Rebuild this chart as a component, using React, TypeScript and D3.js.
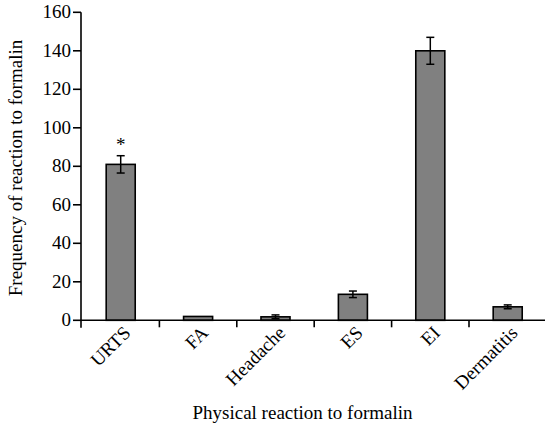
import React from "react";
import * as d3 from "d3";

const categories = ["URTS", "FA", "Headache", "ES", "EI", "Dermatitis"];
const values = [81, 2, 1.8, 13.5, 140, 7];
const errors = [4.5, 0.3, 1, 1.7, 7, 1];
const significant = [true, false, false, false, false, false];
const yTicks = [0, 20, 40, 60, 80, 100, 120, 140, 160];

const W = 545;
const H = 427;
const FONT = "Liberation Serif, serif";

export default function App() {
  const x = d3.scaleBand<string>().domain(categories).range([82, 546.4]);
  const y = d3.scaleLinear().domain([0, 160]).range([320.3, 12.3]);
  const bw = x.bandwidth();
  const barW = bw * 0.375;
  const y0 = y(0);
  const boundaries = categories.slice(1).map((c) => x(c) as number);
  const ts = { fontFamily: FONT, fontSize: "19px" };

  return (
    <svg width={W} height={H} style={{ position: "absolute", left: 0, top: 0, background: "#fff" }}>
      {categories.map((c, i) => {
        const cx = (x(c) as number) + bw / 2;
        return (
          <g key={c}>
            <rect
              x={cx - barW / 2}
              y={y(values[i])}
              width={barW}
              height={y0 - y(values[i])}
              fill="#808080"
              stroke="#000"
              strokeWidth={1.6}
            />
            {errors[i] > 0.5 && (
              <g stroke="#000" strokeWidth={1.5}>
                <line x1={cx} x2={cx} y1={y(values[i] + errors[i])} y2={y(values[i] - errors[i])} />
                <line x1={cx - 4} x2={cx + 4} y1={y(values[i] + errors[i])} y2={y(values[i] + errors[i])} />
                <line x1={cx - 4} x2={cx + 4} y1={y(values[i] - errors[i])} y2={y(values[i] - errors[i])} />
              </g>
            )}
            {significant[i] && (
              <text x={cx} y={y(values[i] + errors[i]) - 5} textAnchor="middle" style={ts}>
                *
              </text>
            )}
          </g>
        );
      })}
      <line x1={81} x2={81} y1={y(160)} y2={y0 + 7.5} stroke="#000" strokeWidth={1.6} />
      {yTicks.map((t) => (
        <g key={t}>
          <line x1={73} x2={81} y1={y(t)} y2={y(t)} stroke="#000" strokeWidth={1.6} />
          <text x={71} y={y(t)} dy="0.32em" textAnchor="end" style={ts}>
            {t}
          </text>
        </g>
      ))}
      <line x1={81} x2={W} y1={y0} y2={y0} stroke="#000" strokeWidth={1.6} />
      {boundaries.map((b, i) => (
        <line key={i} x1={b} x2={b} y1={y0} y2={y0 + 7} stroke="#000" strokeWidth={1.6} />
      ))}
      {categories.map((c) => {
        const cx = (x(c) as number) + bw / 2 + 11;
        return (
          <text key={c} transform={`translate(${cx},334) rotate(-45)`} textAnchor="end" style={ts}>
            {c}
          </text>
        );
      })}
      <text x={302.5} y={419} textAnchor="middle" style={ts}>
        Physical reaction to formalin
      </text>
      <text transform="translate(22,168) rotate(-90)" textAnchor="middle" style={ts}>
        Frequency of reaction to formalin
      </text>
    </svg>
  );
}
